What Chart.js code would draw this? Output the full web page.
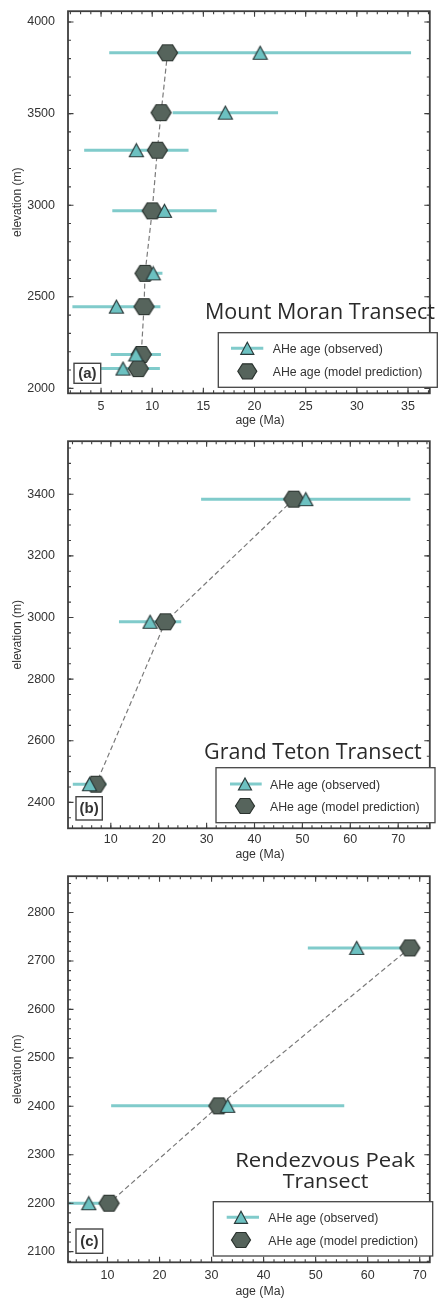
<!DOCTYPE html>
<html>
<head>
<meta charset="utf-8">
<script src="https://cdn.jsdelivr.net/npm/chart.js@4.4.1/dist/chart.umd.min.js"></script>
<style>
html,body{margin:0;padding:0;background:#fff;width:441px;height:1300px;overflow:hidden;}
.panel{position:absolute;left:0;width:441px;}
#ov{position:absolute;left:0;top:0;pointer-events:none;}
</style>
</head>
<body>
<div class="panel" style="top:0px;height:430px"><canvas id="cA" width="441" height="430"></canvas></div>
<div class="panel" style="top:430px;height:435px"><canvas id="cB" width="441" height="435"></canvas></div>
<div class="panel" style="top:865px;height:435px"><canvas id="cC" width="441" height="435"></canvas></div>
<svg id="ov" width="441" height="1300" xmlns="http://www.w3.org/2000/svg"></svg>
<script>
// ---------------- DATA ----------------
// (a) Mount Moran Transect
const moranElevation   = [3832, 3505, 3300, 2969, 2628, 2446, 2185, 2108];
const moranObservedAge = [20.55, 17.15, 8.45, 11.2, 10.1, 6.5, 8.4, 7.15];
const moranObservedErr = [14.75, 5.15, 5.1, 5.1, 0.9, 4.3, 2.45, 3.6];
const moranModelAge    = [11.5, 10.87, 10.5, 10.0, 9.3, 9.2, 8.93, 8.64];
const moranAgeTicks    = [5, 10, 15, 20, 25, 30, 35];
const moranElevTicks   = [2000, 2500, 3000, 3500, 4000];

// (b) Grand Teton Transect
const tetonElevation   = [3384, 2986, 2459];
const tetonObservedAge = [50.7, 18.2, 5.56];
const tetonObservedErr = [21.85, 6.5, 3.5];
const tetonModelAge    = [48.2, 21.4, 6.9];
const tetonAgeTicks    = [10, 20, 30, 40, 50, 60, 70];
const tetonElevTicks   = [2400, 2600, 2800, 3000, 3200, 3400];

// (c) Rendezvous Peak Transect
const rendezElevation   = [2727, 2401, 2200];
const rendezObservedAge = [57.9, 33.1, 6.4];
const rendezObservedErr = [9.4, 22.4, 4.0];
const rendezModelAge    = [68.1, 31.4, 10.3];
const rendezAgeTicks    = [10, 20, 30, 40, 50, 60, 70];
const rendezElevTicks   = [2100, 2200, 2300, 2400, 2500, 2600, 2700, 2800];

const legendLabels = ['AHe age (observed)', 'AHe age (model prediction)'];
const xAxisTitle = 'age (Ma)';
const yAxisTitle = 'elevation (m)';

// ---------------- STYLE ----------------
const FONT = '"Liberation Sans", Arial, Helvetica, sans-serif';
const TEXT = '#333333';
const FRAME = '#3e3e3e';
const TRI_FILL = '#6cc1c1', TRI_STROKE = '#2b3b3b';
const HEX_FILL = '#56645c', HEX_STROKE = '#2a322e';
const ERR_COLOR = '#80cbcb';
const DASH_COLOR = '#7a7a7a';

function hexPts(cx, cy, w, h) {
  return [[cx - w/2, cy], [cx - w/4, cy - h/2], [cx + w/4, cy - h/2],
          [cx + w/2, cy], [cx + w/4, cy + h/2], [cx - w/4, cy + h/2]];
}
function triPts(cx, cy, w, h) {
  return [[cx, cy - h/2], [cx + w/2, cy + h/2], [cx - w/2, cy + h/2]];
}
function markerCanvas(kind, w, h) {
  const c = document.createElement('canvas');
  c.width = w + 3; c.height = h + 3;
  const g = c.getContext('2d');
  const pts = kind === 'hex' ? hexPts(c.width/2, c.height/2, w, h) : triPts(c.width/2, c.height/2, w, h);
  g.beginPath();
  pts.forEach((p, i) => i ? g.lineTo(p[0], p[1]) : g.moveTo(p[0], p[1]));
  g.closePath();
  g.fillStyle = kind === 'hex' ? HEX_FILL : TRI_FILL;
  g.fill();
  g.lineWidth = 1.2;
  g.lineJoin = 'miter';
  g.strokeStyle = kind === 'hex' ? HEX_STROKE : TRI_STROKE;
  g.stroke();
  return c;
}
const triImg = markerCanvas('tri', 14, 13);
const hexImg = markerCanvas('hex', 20, 16);

// frame + inside ticks (major and minor) on all four sides
const frameTicks = {
  id: 'frameTicks',
  afterDraw(chart, args, opts) {
    const ctx = chart.ctx, a = chart.chartArea;
    const xs = chart.scales.x, ys = chart.scales.y;
    ctx.save();
    ctx.strokeStyle = FRAME;
    ctx.lineWidth = 1.1;
    const vline = (p, len) => {
      ctx.beginPath();
      ctx.moveTo(p, a.bottom); ctx.lineTo(p, a.bottom - len);
      ctx.moveTo(p, a.top); ctx.lineTo(p, a.top + len);
      ctx.stroke();
    };
    const hline = (p, len) => {
      ctx.beginPath();
      ctx.moveTo(a.left, p); ctx.lineTo(a.left + len, p);
      ctx.moveTo(a.right, p); ctx.lineTo(a.right - len, p);
      ctx.stroke();
    };
    for (let k = Math.ceil(xs.min / opts.minorX); k * opts.minorX <= xs.max; k++) {
      vline(xs.getPixelForValue(k * opts.minorX), 3);
    }
    for (let k = Math.ceil(ys.min / opts.minorY); k * opts.minorY <= ys.max; k++) {
      hline(ys.getPixelForValue(k * opts.minorY), 3);
    }
    xs.ticks.forEach(t => vline(xs.getPixelForValue(t.value), 5.5));
    ys.ticks.forEach(t => hline(ys.getPixelForValue(t.value), 5.5));
    ctx.lineWidth = 1.8;
    ctx.strokeRect(a.left, a.top, a.right - a.left, a.bottom - a.top);
    ctx.restore();
  }
};

function errorSegments(age, err, elev) {
  const pts = [];
  age.forEach((v, i) => {
    pts.push({x: v - err[i], y: elev[i]}, {x: v + err[i], y: elev[i]}, {x: v + err[i], y: null});
  });
  return pts;
}

function makeChart(id, d, L) {
  return new Chart(document.getElementById(id), {
    type: 'scatter',
    data: {
      datasets: [
        {
          label: legendLabels[0],
          data: d.obs.map((v, i) => ({x: v, y: d.elev[i]})),
          pointStyle: triImg, pointRadius: 8, showLine: false, order: 1
        },
        {
          label: legendLabels[1],
          data: d.model.map((v, i) => ({x: v, y: d.elev[i]})),
          pointStyle: hexImg, pointRadius: 10, showLine: true,
          borderColor: DASH_COLOR, borderWidth: 1.2, borderDash: [5, 3],
          backgroundColor: 'transparent', order: 2
        },
        {
          label: 'error',
          data: errorSegments(d.obs, d.err, d.elev),
          showLine: true, pointRadius: 0, borderColor: ERR_COLOR, borderWidth: 3,
          backgroundColor: 'transparent', spanGaps: false, order: 3
        }
      ]
    },
    options: {
      responsive: false,
      animation: false,
      devicePixelRatio: 1,
      events: [],
      layout: {padding: {top: L.top, right: 4, left: 0, bottom: 0}},
      plugins: {
        legend: {display: false},
        tooltip: {enabled: false},
        frameTicks: {minorX: L.minorX, minorY: L.minorY}
      },
      scales: {
        x: {
          type: 'linear', min: L.xMin, max: L.xMax,
          grid: {display: false}, border: {display: false},
          ticks: {font: {family: FONT, size: 12.5}, color: TEXT, padding: L.xPad, maxRotation: 0, autoSkip: false,
                  callback: v => String(v)},
          afterBuildTicks: s => { s.ticks = d.xTicks.map(v => ({value: v})); },
          afterFit: s => { s.height = L.xH; s.paddingLeft = 0; s.paddingRight = 0; }
        },
        y: {
          type: 'linear', min: L.yMin, max: L.yMax,
          grid: {display: false}, border: {display: false},
          ticks: {font: {family: FONT, size: 12.5}, color: TEXT, padding: 5, autoSkip: false,
                  callback: v => String(v)},
          afterBuildTicks: s => { s.ticks = d.yTicks.map(v => ({value: v})); },
          afterFit: s => { s.width = 68; s.paddingTop = 0; s.paddingBottom = 0; },
          title: {display: true, text: yAxisTitle, color: TEXT, font: {family: FONT, size: 12}, padding: {top: 10, bottom: 0}}
        }
      }
    },
    plugins: [frameTicks]
  });
}

makeChart('cA',
  {elev: moranElevation, obs: moranObservedAge, err: moranObservedErr, model: moranModelAge, xTicks: moranAgeTicks, yTicks: moranElevTicks},
  {top: 5, xH: 36.7, xPad: -1.8, xMin: 1.77, xMax: 37.13, yMin: 1973, yMax: 4059, minorX: 1, minorY: 100});
makeChart('cB',
  {elev: tetonElevation, obs: tetonObservedAge, err: tetonObservedErr, model: tetonModelAge, xTicks: tetonAgeTicks, yTicks: tetonElevTicks},
  {top: 9.3, xH: 36.7, xPad: -4.5, xMin: 1.06, xMax: 76.6, yMin: 2316, yMax: 3572, minorX: 2, minorY: 50});
makeChart('cC',
  {elev: rendezElevation, obs: rendezObservedAge, err: rendezObservedErr, model: rendezModelAge, xTicks: rendezAgeTicks, yTicks: rendezElevTicks},
  {top: 9, xH: 37.7, xPad: -2.5, xMin: 2.41, xMax: 71.94, yMin: 2078, yMax: 2875, minorX: 2, minorY: 20});

// ---------------- OVERLAY TEXT (titles, legends, panel labels) ----------------
const NS = 'http://www.w3.org/2000/svg';
const svg = document.getElementById('ov');
function el(tag, attrs, text) {
  const e = document.createElementNS(NS, tag);
  for (const k in attrs) e.setAttribute(k, attrs[k]);
  if (text !== undefined) e.textContent = text;
  svg.appendChild(e);
  return e;
}
function poly(pts, fill, stroke) {
  el('polygon', {points: pts.map(p => p.join(',')).join(' '), fill: fill, stroke: stroke, 'stroke-width': 1.2});
}
function bigTitle(str, cx, base, width, size) {
  el('text', {x: cx, y: base, 'text-anchor': 'middle', 'font-family': '"Open Sans", "Noto Sans", sans-serif',
    'font-size': size, fill: '#2a2a2a', textLength: width, lengthAdjust: 'spacingAndGlyphs'}, str);
}
function legendBox(x0, y0, x1, y1, mx, lx0, lx1, r1, r2, tx) {
  el('rect', {x: x0, y: y0, width: x1 - x0, height: y1 - y0, fill: '#fff', stroke: '#454545', 'stroke-width': 1.3});
  el('line', {x1: lx0, x2: lx1, y1: r1, y2: r1, stroke: ERR_COLOR, 'stroke-width': 3});
  poly(triPts(mx, r1, 13, 12), TRI_FILL, TRI_STROKE);
  poly(hexPts(mx, r2, 19, 15), HEX_FILL, HEX_STROKE);
  el('text', {x: tx, y: r1 + 4.6, 'font-family': FONT, 'font-size': 12.3, fill: TEXT}, legendLabels[0]);
  el('text', {x: tx, y: r2 + 4.6, 'font-family': FONT, 'font-size': 12.3, fill: TEXT}, legendLabels[1]);
}
function panelLabel(str, x, y, w, h) {
  el('rect', {x: x, y: y, width: w, height: h, fill: '#fff', stroke: '#454545', 'stroke-width': 1.4});
  el('text', {x: x + w/2, y: y + h/2 + 5, 'text-anchor': 'middle', 'font-family': FONT, 'font-weight': 'bold',
    'font-size': 15, fill: TEXT}, str);
}
function xTitle(y) {
  el('text', {x: 260, y: y + 4.3, 'text-anchor': 'middle', 'font-family': FONT, 'font-size': 12.3, fill: TEXT}, xAxisTitle);
}

// panel (a)
bigTitle('Mount Moran Transect', 320, 319.3, 230, 22.4);
legendBox(218.3, 332.7, 437.3, 387.3, 247.3, 231, 263.3, 348.3, 371.3, 272.7);
panelLabel('(a)', 74, 363.3, 26.7, 20);
xTitle(420);
// panel (b)
bigTitle('Grand Teton Transect', 312.9, 759.3, 217.7, 21);
legendBox(216, 767.7, 435, 822.7, 245, 230, 261.7, 784, 806, 270);
panelLabel('(b)', 76, 796.7, 26.3, 23.3);
xTitle(853.3);
// panel (c)
bigTitle('Rendezvous Peak', 325.2, 1167.3, 180, 20.5);
bigTitle('Transect', 325.5, 1187.7, 85.6, 20.5);
legendBox(213.3, 1201.7, 432.7, 1256, 241, 226.7, 259, 1217.3, 1240, 268.3);
panelLabel('(c)', 76, 1229, 26.7, 24.3);
xTitle(1291);
</script>
</body>
</html>
